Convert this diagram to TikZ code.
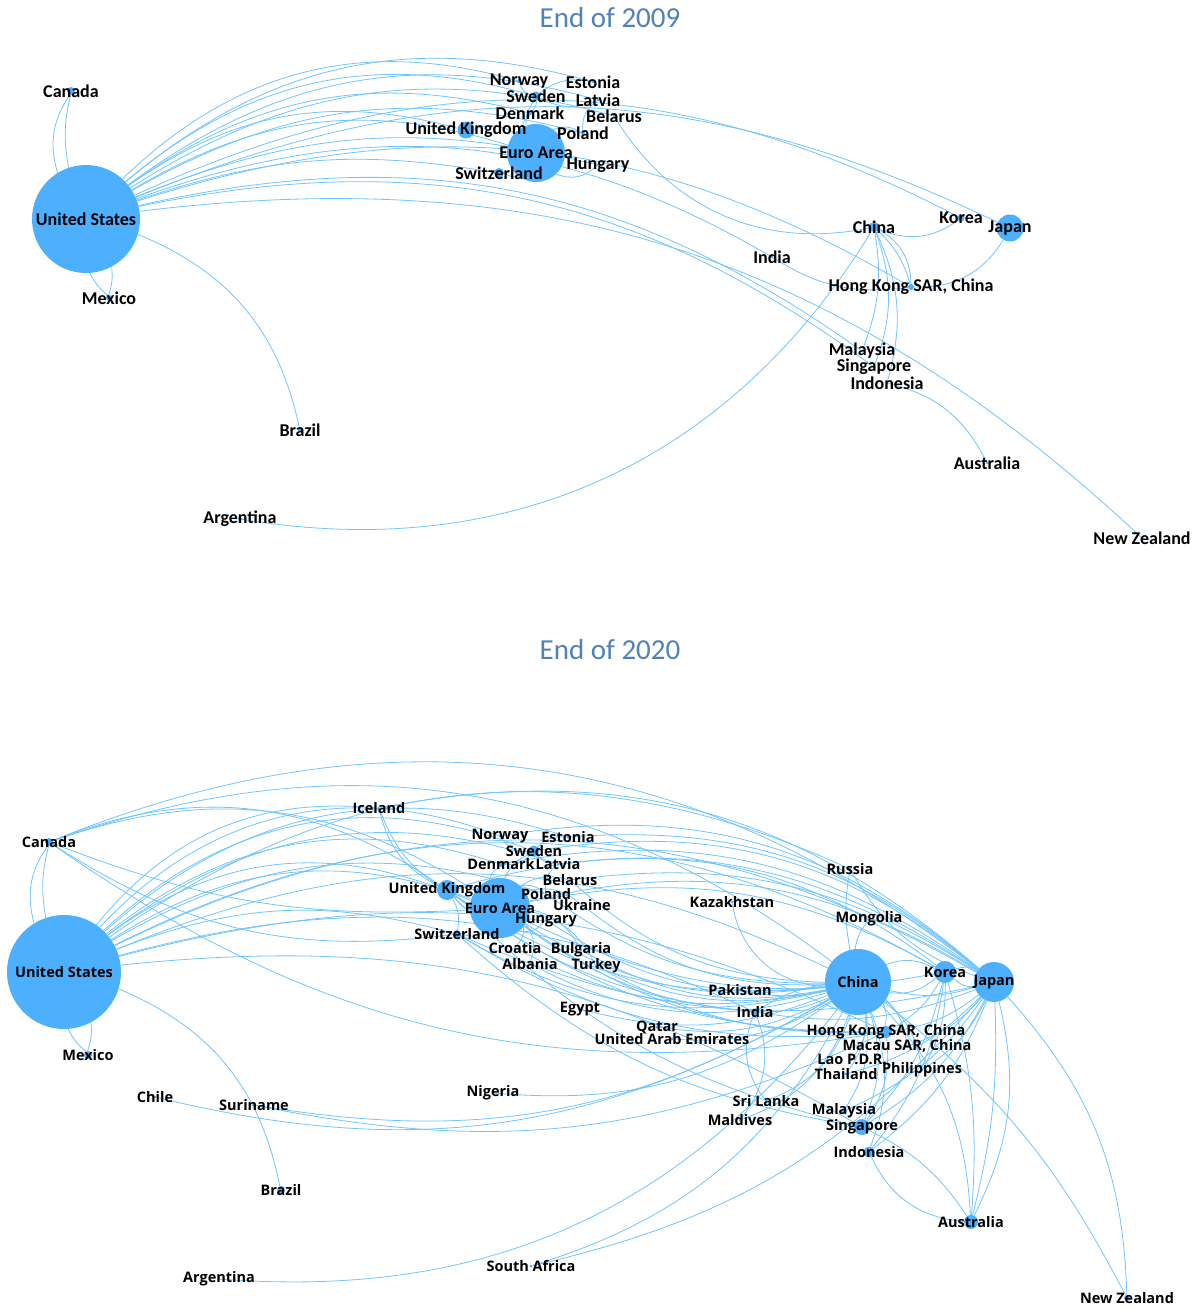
\documentclass[tikz,border=0pt]{standalone}
\usepackage{fontspec}
\newfontfamily\fontA{Carlito}
\newfontfamily\fontB{Open Sans}
\definecolor{nodeblue}{RGB}{77,176,255}
\definecolor{edgeblue}{RGB}{112,196,255}
\definecolor{titleblue}{RGB}{80,130,185}
\pgfdeclarelayer{bg}
\pgfsetlayers{bg,main}
\tikzset{
  dot/.style={circle,fill=nodeblue,draw=none,inner sep=0pt},
  cedge/.style={draw=edgeblue,line width=0.8pt},
  lblA/.style={font=\fontA\bfseries\fontsize{18}{18}\selectfont,inner sep=0pt,text=black},
  lblB/.style={font=\fontB\bfseries\fontsize{14.5}{14.5}\selectfont,inner sep=0pt,text=black},
  lbl/.style={lblA},
  ttl/.style={font=\fontA\fontsize{29}{29}\selectfont,text=titleblue,inner sep=0pt}
}
\newcommand\cty{}
\newcommand\mkdot[5]{\node[dot,minimum size=#4pt] (#1) at (#2,-#3) {};}
\newcommand\mklbl[5]{\node[lbl] (#1-l) at (#2,-#3) {#5};}
\newcommand\lnk[3]{\draw[cedge] (#1) to[bend left=#3] (#2);}
\newcommand\countriesA{%
\cty{aUS}{86}{219}{108}{United States}%
\cty{aCA}{71}{91}{8}{Canada}%
\cty{aMX}{109}{298}{6}{Mexico}%
\cty{aBR}{300}{430}{4}{Brazil}%
\cty{aAR}{240}{519}{4}{Argentina}%
\cty{aNO}{519}{81}{4}{Norway}%
\cty{aSE}{536}{96}{9}{Sweden}%
\cty{aEE}{593}{82}{3}{Estonia}%
\cty{aLV}{598}{100}{3}{Latvia}%
\cty{aBY}{614}{116}{3}{Belarus}%
\cty{aDK}{530}{113}{4}{Denmark}%
\cty{aGB}{466}{130}{17}{United Kingdom}%
\cty{aPL}{583}{133}{4}{Poland}%
\cty{aEA}{536}{153}{58}{Euro Area}%
\cty{aHU}{598}{165}{3}{Hungary}%
\cty{aCH}{499}{173}{10}{Switzerland}%
\cty{aCN}{874}{227}{10}{China}%
\cty{aKR}{961}{218}{7}{Korea}%
\cty{aJP}{1010}{228}{27}{Japan}%
\cty{aIN}{772}{257}{3}{India}%
\cty{aHK}{911}{287}{6}{Hong Kong SAR, China}%
\cty{aMY}{862}{351}{3}{Malaysia}%
\cty{aSG}{874}{367}{3}{Singapore}%
\cty{aID}{887}{383}{3}{Indonesia}%
\cty{aAU}{987}{463}{3}{Australia}%
\cty{aNZ}{1142}{538}{3}{New Zealand}%
}
\newcommand\countriesB{%
\cty{bUS}{64}{972}{114}{United States}%
\cty{bCA}{49}{842}{8}{Canada}%
\cty{bMX}{88}{1055}{8}{Mexico}%
\cty{bCL}{155}{1097}{3}{Chile}%
\cty{bSR}{254}{1105}{3}{Suriname}%
\cty{bBR}{281}{1190}{8}{Brazil}%
\cty{bAR}{219}{1279}{3}{Argentina}%
\cty{bIS}{379}{808}{3}{Iceland}%
\cty{bNO}{500}{836}{3}{Norway}%
\cty{bEE}{568}{837}{3}{Estonia}%
\cty{bSE}{534}{851}{11}{Sweden}%
\cty{bDK}{501}{864}{6}{Denmark}%
\cty{bLV}{558}{864}{3}{Latvia}%
\cty{bBY}{570}{880}{3}{Belarus}%
\cty{bGB}{447}{890}{20}{United Kingdom}%
\cty{bPL}{546}{894}{3}{Poland}%
\cty{bEA}{500}{908}{60}{Euro Area}%
\cty{bUA}{582}{905}{3}{Ukraine}%
\cty{bHU}{546}{920}{3}{Hungary}%
\cty{bCH}{457}{934}{8}{Switzerland}%
\cty{bHR}{515}{948}{3}{Croatia}%
\cty{bBG}{581}{950}{3}{Bulgaria}%
\cty{bAL}{530}{964}{3}{Albania}%
\cty{bTR}{596}{966}{3}{Turkey}%
\cty{bKZ}{732}{902}{3}{Kazakhstan}%
\cty{bRU}{850}{869}{3}{Russia}%
\cty{bMN}{869}{919}{3}{Mongolia}%
\cty{bCN}{858}{982}{66}{China}%
\cty{bKR}{945}{972}{22}{Korea}%
\cty{bJP}{994}{982}{40}{Japan}%
\cty{bPK}{740}{990}{3}{Pakistan}%
\cty{bEG}{580}{1009}{3}{Egypt}%
\cty{bIN}{755}{1012}{6}{India}%
\cty{bQA}{657}{1027}{3}{Qatar}%
\cty{bAE}{672}{1039}{3}{United Arab Emirates}%
\cty{bHK}{886}{1032}{12}{Hong Kong SAR, China}%
\cty{bMO}{907}{1046}{3}{Macau SAR, China}%
\cty{bLA}{852}{1059}{3}{Lao P.D.R.}%
\cty{bTH}{846}{1074}{3}{Thailand}%
\cty{bPH}{922}{1070}{3}{Philippines}%
\cty{bNG}{493}{1093}{3}{Nigeria}%
\cty{bLK}{766}{1101}{3}{Sri Lanka}%
\cty{bMV}{740}{1120}{3}{Maldives}%
\cty{bMY}{844}{1111}{6}{Malaysia}%
\cty{bSG}{862}{1127}{16}{Singapore}%
\cty{bID}{869}{1152}{11}{Indonesia}%
\cty{bAU}{971}{1222}{14}{Australia}%
\cty{bZA}{531}{1266}{3}{South Africa}%
\cty{bNZ}{1127}{1298}{6}{New Zealand}%
}
\begin{document}
\begin{tikzpicture}[x=1pt,y=1pt]
\useasboundingbox (0,0) rectangle (1199,-1308);
\node[ttl] (t1) at (610,-18) {End of 2009};
\node[ttl] (t2) at (610,-650) {End of 2020};
\let\cty\mkdot
\countriesA
\countriesB
\begin{pgfonlayer}{bg}
% ---------- 2009 ----------
\lnk{aUS}{aCA}{12}\lnk{aUS}{aCA}{25}
\lnk{aUS}{aMX}{12}\lnk{aMX}{aUS}{12}
\lnk{aUS}{aBR}{28}
\lnk{aUS}{aNO}{30}\lnk{aUS}{aEE}{28}\lnk{aUS}{aSE}{28}\lnk{aUS}{aLV}{26}
\lnk{aUS}{aDK}{25}\lnk{aUS}{aBY}{24}\lnk{aUS}{aGB}{25}\lnk{aUS}{aEA}{24}
\lnk{aUS}{aPL}{22}\lnk{aUS}{aCH}{14}\lnk{aUS}{aHU}{18}
\lnk{aUS}{aJP}{24}\lnk{aUS}{aKR}{26}
\lnk{aUS}{aIN}{25}\lnk{aUS}{aHK}{24}\lnk{aUS}{aMY}{24}\lnk{aUS}{aSG}{24}\lnk{aUS}{aNZ}{25}
\lnk{aSE}{aNO}{30}\lnk{aSE}{aEE}{25}\lnk{aLV}{aSE}{25}\lnk{aSE}{aDK}{25}
\lnk{aEA}{aSE}{20}\lnk{aEA}{aDK}{20}\lnk{aGB}{aEA}{25}\lnk{aEA}{aPL}{30}
\lnk{aPL}{aLV}{30}\lnk{aHU}{aEA}{35}\lnk{aEA}{aCH}{25}
\lnk{aCN}{aBY}{35}\lnk{aKR}{aCN}{30}\lnk{aJP}{aHK}{30}\lnk{aHK}{aIN}{20}
\lnk{aCN}{aHK}{30}\lnk{aCN}{aHK}{15}
\lnk{aCN}{aMY}{15}\lnk{aCN}{aSG}{20}\lnk{aCN}{aID}{20}
\lnk{aCN}{aAR}{34}\lnk{aID}{aAU}{25}
% ---------- 2020 ----------
\lnk{bUS}{bCA}{12}\lnk{bUS}{bCA}{25}
\lnk{bUS}{bMX}{12}\lnk{bMX}{bUS}{12}
\lnk{bUS}{bBR}{28}
\lnk{bUS}{bNO}{34}\lnk{bUS}{bSE}{32}\lnk{bUS}{bEE}{30}\lnk{bUS}{bDK}{28}
\lnk{bUS}{bLV}{28}\lnk{bUS}{bGB}{28}\lnk{bUS}{bEA}{26}\lnk{bUS}{bCH}{18}
\lnk{bUS}{bPL}{24}\lnk{bUS}{bJP}{28}\lnk{bUS}{bKR}{28}\lnk{bUS}{bRU}{30}
\lnk{bUS}{bCN}{24}\lnk{bUS}{bHK}{20}\lnk{bUS}{bSG}{18}\lnk{bUS}{bIN}{20}
\lnk{bUS}{bIS}{28}
\lnk{bCA}{bJP}{30}\lnk{bCA}{bCN}{28}\lnk{bCA}{bGB}{28}\lnk{bCA}{bEA}{26}
\lnk{bCH}{bCA}{20}\lnk{bEA}{bCA}{12}\lnk{bHK}{bCA}{22}
\lnk{bSE}{bNO}{30}\lnk{bSE}{bEE}{25}\lnk{bLV}{bSE}{25}\lnk{bSE}{bDK}{25}
\lnk{bEA}{bSE}{22}\lnk{bEA}{bDK}{22}\lnk{bGB}{bEA}{22}\lnk{bEA}{bGB}{22}
\lnk{bEA}{bPL}{30}\lnk{bPL}{bLV}{30}\lnk{bHU}{bEA}{35}\lnk{bEA}{bCH}{25}
\lnk{bGB}{bCH}{20}\lnk{bGB}{bIS}{25}\lnk{bEA}{bIS}{25}
\lnk{bEA}{bHR}{30}\lnk{bEA}{bAL}{30}\lnk{bEA}{bBG}{25}\lnk{bEA}{bUA}{30}
\lnk{bEA}{bTR}{25}\lnk{bEA}{bBY}{25}
\lnk{bCN}{bEA}{20}\lnk{bCN}{bGB}{20}\lnk{bCN}{bCH}{22}\lnk{bCN}{bHU}{20}
\lnk{bCN}{bHR}{20}\lnk{bCN}{bAL}{22}\lnk{bCN}{bBG}{20}\lnk{bCN}{bTR}{18}
\lnk{bCN}{bUA}{20}\lnk{bCN}{bBY}{20}\lnk{bCN}{bPL}{18}
\lnk{bHK}{bGB}{18}\lnk{bHK}{bEA}{18}\lnk{bHK}{bCH}{18}\lnk{bSG}{bGB}{16}
\lnk{bSG}{bCH}{16}\lnk{bIN}{bGB}{15}\lnk{bIN}{bEA}{15}\lnk{bJP}{bCH}{18}
\lnk{bKR}{bEA}{18}\lnk{bHK}{bTR}{15}
\lnk{bNO}{bJP}{25}\lnk{bSE}{bJP}{24}\lnk{bEE}{bJP}{22}\lnk{bLV}{bKR}{22}
\lnk{bBY}{bJP}{20}\lnk{bGB}{bJP}{25}\lnk{bEA}{bKR}{20}\lnk{bIS}{bJP}{26}
\lnk{bDK}{bJP}{23}\lnk{bEA}{bJP}{22}
\lnk{bCN}{bRU}{10}\lnk{bCN}{bMN}{15}\lnk{bJP}{bRU}{20}\lnk{bCN}{bKZ}{40}
\lnk{bCN}{bPK}{12}\lnk{bCN}{bIN}{12}\lnk{bIN}{bCN}{12}\lnk{bCN}{bEG}{18}
\lnk{bCN}{bQA}{18}\lnk{bCN}{bAE}{18}\lnk{bCN}{bLK}{25}\lnk{bCN}{bMV}{25}
\lnk{bIN}{bMV}{30}\lnk{bLK}{bIN}{30}\lnk{bJP}{bIN}{15}
\lnk{bCN}{bNG}{20}\lnk{bCN}{bZA}{22}\lnk{bCN}{bAR}{28}\lnk{bCN}{bCL}{22}
\lnk{bCN}{bSR}{20}\lnk{bJP}{bZA}{18}\lnk{bHK}{bSR}{18}
\lnk{bCN}{bKR}{25}\lnk{bKR}{bCN}{25}\lnk{bJP}{bCN}{15}\lnk{bJP}{bKR}{25}
\lnk{bKR}{bJP}{25}
\lnk{bCN}{bHK}{20}\lnk{bCN}{bMO}{20}\lnk{bCN}{bLA}{20}\lnk{bCN}{bTH}{20}
\lnk{bCN}{bPH}{20}\lnk{bCN}{bMY}{20}\lnk{bCN}{bSG}{20}\lnk{bCN}{bID}{20}
\lnk{bCN}{bAU}{20}\lnk{bCN}{bNZ}{12}
\lnk{bJP}{bHK}{15}\lnk{bJP}{bMO}{15}\lnk{bJP}{bTH}{15}\lnk{bJP}{bPH}{15}
\lnk{bJP}{bMY}{15}\lnk{bJP}{bSG}{15}\lnk{bJP}{bID}{15}\lnk{bJP}{bAU}{20}
\lnk{bJP}{bAU}{8}\lnk{bJP}{bNZ}{20}
\lnk{bKR}{bHK}{15}\lnk{bKR}{bSG}{15}\lnk{bKR}{bID}{15}\lnk{bKR}{bAU}{10}
\lnk{bKR}{bPH}{15}
\lnk{bAU}{bID}{30}\lnk{bSG}{bAU}{15}\lnk{bHK}{bSG}{20}
\end{pgfonlayer}
\let\cty\mklbl
\countriesA
\tikzset{lbl/.style={lblB}}
\countriesB
\end{tikzpicture}
\end{document}
